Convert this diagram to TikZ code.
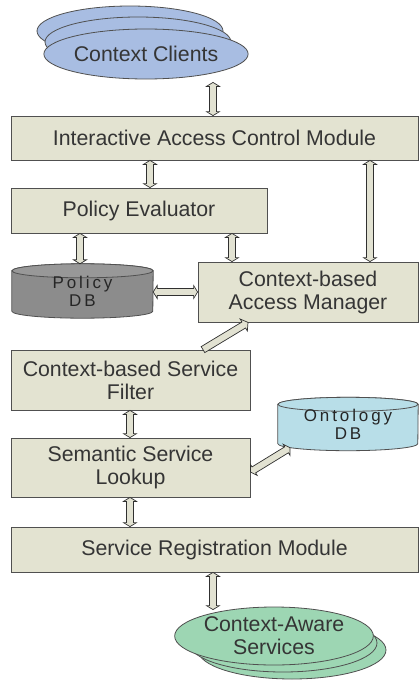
\documentclass[tikz,border=0pt]{standalone}
\usepackage{fontspec}
\setmainfont{Liberation Sans}
\newfontfamily\dbfont[LetterSpace=17]{Liberation Sans}
\usetikzlibrary{calc,shapes.geometric,backgrounds}
\definecolor{boxfill}{HTML}{E3E3D1}
\definecolor{boxline}{HTML}{505050}
\definecolor{txt}{HTML}{353535}
\definecolor{ccblue}{HTML}{A8BDE2}
\definecolor{casgreen}{HTML}{9DD6B3}
\definecolor{pdbbody}{HTML}{8C8C8C}
\definecolor{pdbtop}{HTML}{989898}
\definecolor{odbfill}{HTML}{B8DEE8}
\definecolor{arrowfill}{HTML}{E2E2D2}
\definecolor{arrowline}{HTML}{303030}
\tikzset{
  box/.style={rectangle, draw=boxline, line width=0.8pt, fill=boxfill, inner sep=0pt, align=center},
  ccell/.style={ellipse, draw=boxline, line width=0.8pt, fill=ccblue, minimum width=186pt, minimum height=50pt, inner sep=0pt},
  casell/.style={ellipse, draw=boxline, line width=0.8pt, fill=casgreen, minimum width=188pt, minimum height=58pt, inner sep=0pt, align=center},
  dbnode/.style={rectangle, inner sep=0pt, align=center, text=black!85, font=\dbfont\fontsize{17}{18}\selectfont},
  dbline/.style={draw=boxline, line width=0.8pt},
  dblarrow/.style={draw=arrowline, fill=arrowfill, line width=0.7pt, line join=miter,
    to path={let \p1=(\tikztostart), \p2=(\tikztotarget), \n1={atan2(\y2-\y1,\x2-\x1)} in
      (\p1) -- ($(\p1)+(\n1:4pt)+(\n1+90:6.5pt)$) -- ($(\p1)+(\n1:4pt)+(\n1+90:3.5pt)$)
      -- ($(\p2)+(\n1+180:4pt)+(\n1+90:3.5pt)$) -- ($(\p2)+(\n1+180:4pt)+(\n1+90:6.5pt)$)
      -- (\p2) -- ($(\p2)+(\n1+180:4pt)+(\n1-90:6.5pt)$) -- ($(\p2)+(\n1+180:4pt)+(\n1-90:3.5pt)$)
      -- ($(\p1)+(\n1:4pt)+(\n1-90:3.5pt)$) -- ($(\p1)+(\n1:4pt)+(\n1-90:6.5pt)$) -- cycle}},
  sglarrow/.style={draw=arrowline, fill=arrowfill, line width=0.7pt, line join=miter,
    to path={let \p1=(\tikztostart), \p2=(\tikztotarget), \n1={atan2(\y2-\y1,\x2-\x1)} in
      ($(\p1)+(\n1+90:3.5pt)$)
      -- ($(\p2)+(\n1+180:5pt)+(\n1+90:3.5pt)$) -- ($(\p2)+(\n1+180:5pt)+(\n1+90:7pt)$)
      -- (\p2) -- ($(\p2)+(\n1+180:5pt)+(\n1-90:7pt)$) -- ($(\p2)+(\n1+180:5pt)+(\n1-90:3.5pt)$)
      -- ($(\p1)+(\n1-90:3.5pt)$) -- cycle}},
}
\begin{document}
\begin{tikzpicture}[x=1pt,y=-1pt, font=\fontsize{21.3}{23}\selectfont, text=txt]
\useasboundingbox (0,0) rectangle (419,680);

% Context Clients
\node[ccell] (cc3) at (130,31) {};
\node[ccell] (cc2) at (138,42) {};
\node[ccell] (cc) at (146,54) {Context Clients};

% boxes
\node[box, minimum width=407pt, minimum height=44pt] (iacm) at (214.5,138) {Interactive Access Control Module};
\node[box, minimum width=256pt, minimum height=45pt] (pe) at (139,210.5) {Policy Evaluator};
\node[box, minimum width=220pt, minimum height=60pt] (cam) at (308,292) {Context-based\\Access Manager};
\node[box, minimum width=239pt, minimum height=60pt] (csf) at (130.5,380) {Context-based Service\\Filter};
\node[box, minimum width=239pt, minimum height=59pt] (ssl) at (130.5,467.5) {Semantic Service\\Lookup};
\node[box, minimum width=407pt, minimum height=45pt] (srm) at (214.5,549.5) {Service Registration Module};

% databases
\node[dbnode, minimum width=141pt, minimum height=54pt] (pdb) at (82.5,291) {Policy\\DB};
\node[dbnode, minimum width=140pt, minimum height=53pt] (odb) at (348,424) {Ontology\\DB};
\begin{pgfonlayer}{background}
  \draw[dbline, fill=pdbbody] ([yshift=-7pt]pdb.north west) -- ([yshift=7pt]pdb.south west)
    arc[start angle=180, end angle=360, x radius=70.5pt, y radius=7pt]
    -- ([yshift=-7pt]pdb.north east)
    arc[start angle=0, end angle=180, x radius=70.5pt, y radius=7pt] -- cycle;
  \draw[dbline, fill=pdbtop] ([yshift=-7pt]pdb.north) ellipse [x radius=70.5pt, y radius=7pt];
  \draw[dbline, fill=odbfill] ([yshift=-7pt]odb.north west) -- ([yshift=7pt]odb.south west)
    arc[start angle=180, end angle=360, x radius=70pt, y radius=7pt]
    -- ([yshift=-7pt]odb.north east)
    arc[start angle=0, end angle=180, x radius=70pt, y radius=7pt] -- cycle;
  \draw[dbline, fill=odbfill] ([yshift=-7pt]odb.north) ellipse [x radius=70pt, y radius=7pt];
\end{pgfonlayer}

% Context-Aware Services
\node[casell] (cas3) at (292,650) {};
\node[casell] (cas2) at (283,643) {};
\node[casell] (cas) at (274,636) {Context-Aware\\Services};

% connectors
\draw[dblarrow] ($(cc.south -| 213,0)+(0,3)$) to (iacm.north -| 213,0);
\draw[dblarrow] (iacm.south -| 150,0) to (pe.north -| 150,0);
\draw[dblarrow] (iacm.south -| 370,0) to (cam.north -| 370,0);
\draw[dblarrow] (pe.south -| 80,0) to (pdb.north -| 80,0);
\draw[dblarrow] (pe.south -| 232,0) to (cam.north -| 232,0);
\draw[dblarrow] (pdb.east |- 0,292) to (cam.west |- 0,292);
\draw[sglarrow] (csf.north -| 203,0) to (cam.south -| 248,0);
\draw[dblarrow] (ssl.east |- 0,472) to ($(odb.south -| 290,0)+(0,-3)$);
\draw[dblarrow] (csf.south -| 130,0) to (ssl.north -| 130,0);
\draw[dblarrow] (ssl.south -| 130,0) to (srm.north -| 130,0);
\draw[dblarrow] (srm.south -| 213,0) to ($(cas.north -| 213,0)+(0,3)$);
\end{tikzpicture}
\end{document}
